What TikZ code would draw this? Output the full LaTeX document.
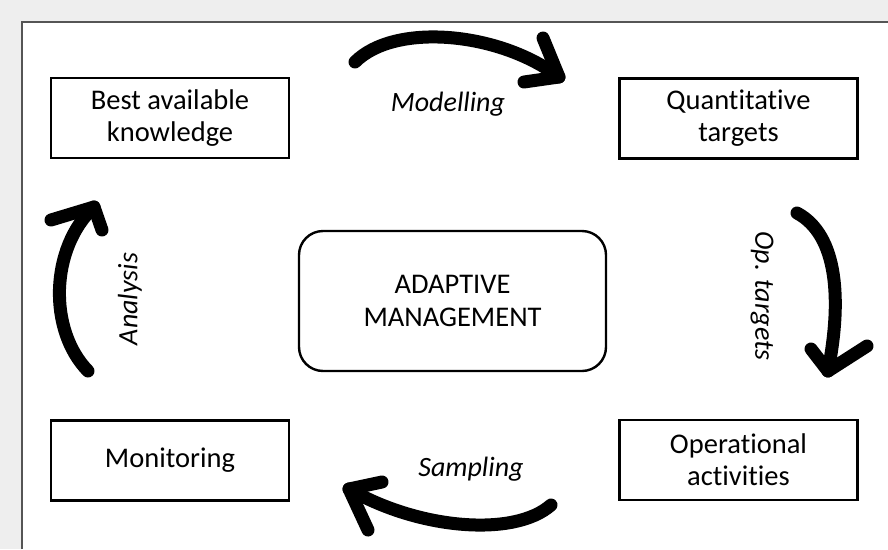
\documentclass[tikz,border=0pt]{standalone}
\usepackage{fontspec}
\setmainfont{Carlito}[Ligatures=NoCommon]
\definecolor{bgray}{HTML}{EEEEEE}
\definecolor{frameline}{HTML}{555555}
\begin{document}
\begin{tikzpicture}[x=1pt,y=-1pt,
  box/.style={draw=black,line width=2.4pt,minimum width=238pt,minimum height=80pt,
    align=center,font=\fontsize{28.5}{32}\selectfont,inner sep=0pt},
  centerbox/.style={draw=black,line width=2.4pt,rounded corners=24pt,minimum width=307pt,
    minimum height=140pt,align=center,font=\fontsize{28.5}{33}\selectfont,inner sep=0pt},
  lbl/.style={font=\fontsize{28}{32}\selectfont\itshape,inner sep=0pt},
  brush/.style={line width=13pt,line cap=round,line join=round,draw=black},
]
\useasboundingbox (0,0) rectangle (888,549);
\fill[bgray] (0,0) rectangle (888,549);
\fill[white] (22,22) rectangle (888,549);
\draw[frameline,line width=1.6pt] (22,549) -- (22,22) -- (888,22);

\node[box] (bak) at (170,118) {Best available\\knowledge};
\node[box] (qt) at (738.5,118.5) {Quantitative\\targets};
\node[box] (oa) at (738.5,460) {Operational\\activities};
\node[box] (mon) at (170,460.5) {Monitoring};
\node[centerbox] (am) at (452.5,301) {ADAPTIVE\\MANAGEMENT};

\node[lbl] (lmod) at (448,104) {Modelling};
\node[lbl] (lsam) at (471,469) {Sampling};
\node[lbl,rotate=-90] (lop) at (762,296) {Op. targets};
\node[lbl,rotate=90] (lana) at (130,299) {Analysis};

% Modelling arrow
\coordinate (m0) at (355,62);
\coordinate (m1) at (559,77);
\draw[brush] (m0) .. controls (395,22) and (500,32) .. (m1);
\draw[brush] (543,38) -- (m1) -- (524,82);
% Op. targets arrow
\coordinate (o0) at (797,213);
\coordinate (o1) at (828,371);
\draw[brush] (o0) .. controls (838,235) and (842,300) .. (o1);
\draw[brush] (811,349) -- (o1) -- (867,346);
% Sampling arrow
\coordinate (s0) at (551,505);
\coordinate (s1) at (349,489);
\draw[brush] (s0) .. controls (515,537) and (420,530) .. (s1);
\draw[brush] (382,482) -- (s1) -- (368,530);
% Analysis arrow
\coordinate (a0) at (88,371);
\coordinate (a1) at (94,207);
\draw[brush] (a0) .. controls (48,330) and (50,248) .. (a1);
\draw[brush] (51,220) -- (a1) -- (102,230);
\end{tikzpicture}
\end{document}
